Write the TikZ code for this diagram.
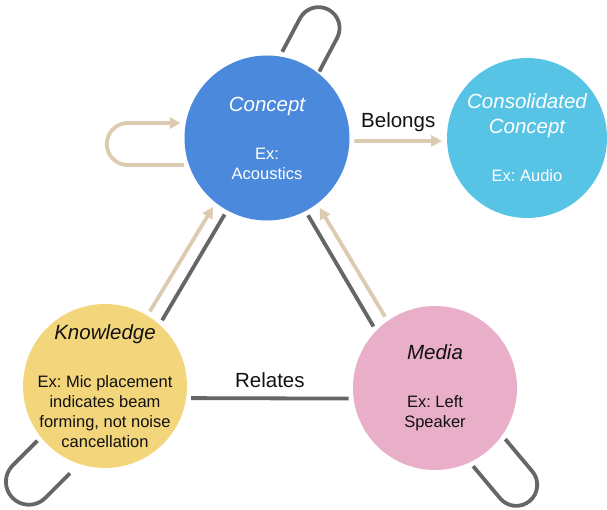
\documentclass[tikz,border=0pt]{standalone}
\usepackage{fontspec}
\setmainfont{Liberation Sans}
\usetikzlibrary{arrows.meta}
\definecolor{conceptblue}{HTML}{4A89DC}
\definecolor{consolcyan}{HTML}{57C4E5}
\definecolor{knowyellow}{HTML}{F3D67C}
\definecolor{mediapink}{HTML}{E9AFC9}
\definecolor{tanline}{HTML}{DCCBB0}
\definecolor{darkline}{HTML}{666666}
\definecolor{textdark}{HTML}{111111}
\newcommand{\nodetitle}[1]{{\fontsize{20.5}{25}\selectfont\itshape #1}}
\frenchspacing
\begin{document}
\begin{tikzpicture}[x=1pt,y=1pt,
  entity/.style={circle,inner sep=0pt,outer sep=5pt},
  lighttext/.style={align=center,text=white,font=\fontsize{16.5}{20}\selectfont},
  darktext/.style={align=center,text=textdark,font=\fontsize{16.5}{20}\selectfont},
  rel/.style={draw=darkline,line width=3.8pt},
  flow/.style={draw=tanline,line width=3.8pt,-{Triangle[length=11pt,width=11pt]}},
  edgetext/.style={text=textdark,font=\fontsize{20.5}{25}\selectfont}]
\useasboundingbox (0,0) rectangle (607,510);
\node[entity,fill=conceptblue,minimum size=165pt,
  label={[lighttext]center:{\nodetitle{Concept}\\[28pt]Ex:\\Acoustics}}] (concept) at (267,372) {};
\node[entity,fill=consolcyan,minimum size=160pt,
  label={[lighttext]center:{\nodetitle{Consolidated}\\[5pt]\nodetitle{Concept}\\[28pt]Ex: Audio}}] (consolidated) at (527,372) {};
\node[entity,fill=knowyellow,minimum size=164pt,
  label={[darktext]center:{\nodetitle{Knowledge}\\[28pt]Ex: Mic placement\\indicates beam\\forming, not noise\\cancellation}}] (knowledge) at (105,124) {};
\node[entity,fill=mediapink,minimum size=164pt,
  label={[darktext]center:{\nodetitle{Media}\\[28pt]Ex: Left\\Speaker}}] (media) at (435,122) {};
\draw[flow] (concept.-2) -- node[edgetext,yshift=19pt] (belongs) {Belongs} (consolidated.182);
\draw[rel] (knowledge.-8) -- node[edgetext,yshift=18pt] (relates) {Relates} (media.187);
\draw[flow] (knowledge.59) -- (concept.232);
\draw[rel] (knowledge.49) -- (concept.241);
\draw[rel] (media.135) -- (concept.298);
\draw[flow] (media.125) -- (concept.307);
\draw[flow] (concept.198) -- ++(-56,0) arc[start angle=270,end angle=90,radius=21] -- ++(53,0);
\draw[rel] (concept.80) -- ++(62:38) arc[start angle=152,end angle=-28,radius=21] -- ++(242:38);
\draw[rel] (knowledge.219) -- ++(225:35) arc[start angle=135,end angle=315,radius=23] -- ++(45:35);
\draw[rel] (media.-64) -- ++(-50:42) arc[start angle=-140,end angle=40,radius=21] -- ++(130:42);
\end{tikzpicture}
\end{document}
